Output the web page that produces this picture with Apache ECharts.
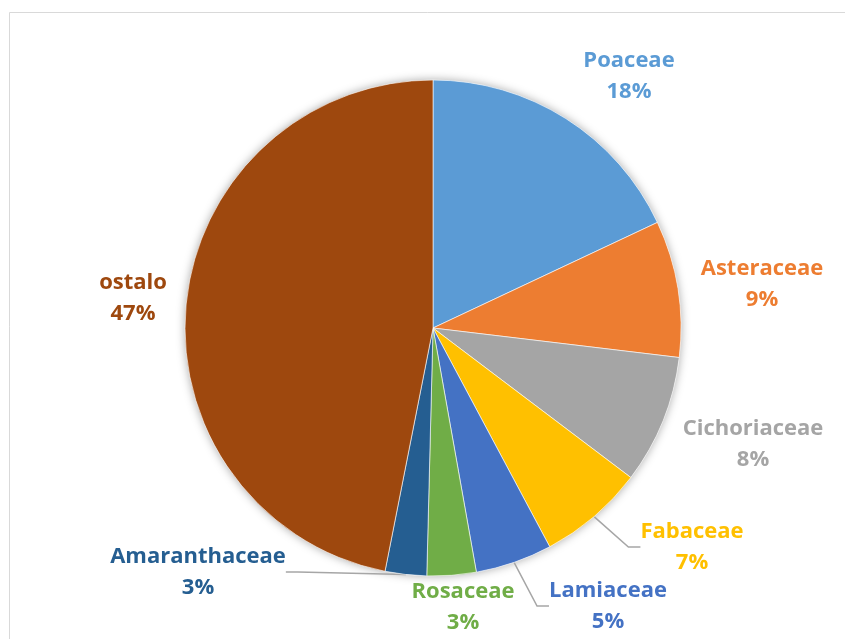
<!DOCTYPE html>
<html>
<head>
<meta charset="utf-8">
<title>Pie</title>
<script src="https://cdn.jsdelivr.net/npm/echarts@6/dist/echarts.min.js"></script>
<style>
	html, body { margin: 0; padding: 0; background: #fff; }
	#family_pie { width: 845px; height: 639px; }
</style>
</head>
<body>
<div id="family_pie"></div>
<script>
var familyNames = ['Poaceae', 'Asteraceae', 'Cichoriaceae', 'Fabaceae', 'Lamiaceae', 'Rosaceae', 'Amaranthaceae', 'ostalo'];
var familyShare = [18.0, 8.9, 8.4, 6.9, 5.0, 3.2, 2.7, 46.9];

var familyColors = ['#5B9BD5', '#ED7D31', '#A5A5A5', '#FFC000', '#4472C4', '#70AD47', '#255E91', '#9E480E'];
// label centres (px), placed like the original office chart
var labelPos = [[629, 76], [762, 284], [753, 444], [692, 547], [608, 606], [463, 607], [198, 572], [133, 298]];
var withLeader = [false, false, false, true, true, false, true, false];

function showFamilyPie() {
	var myChart = echarts.init(document.getElementById('family_pie'));

	var tempData = new Array();
	for (var i = 0; i < familyNames.length; i++) {
		var temp = {
			value : familyShare[i],
			name : familyNames[i],
			itemStyle : {
				color : familyColors[i]
			},
			label : {
				color : familyColors[i]
			},
			labelLine : {
				show : withLeader[i]
			}
		};
		tempData.push(temp);
	}

	var option = {
		backgroundColor : '#fff',
		animation : false,
		graphic : [ {
			type : 'rect',
			shape : { x : 9.5, y : 12.5, width : 900, height : 700 },
			style : { fill : 'none', stroke : '#d9d9d9', lineWidth : 1 },
			silent : true
		} ],
		series : [ {
			// soft shadow behind the whole pie
			name : 'shadow',
			type : 'pie',
			silent : true,
			z : 1,
			left : 0,
			top : 0,
			width : 1400,
			height : 639,
			center : [ 433, 328 ],
			radius : 248,
			label : { show : false },
			labelLine : { show : false },
			itemStyle : {
				color : '#fff',
				shadowBlur : 10,
				shadowColor : 'rgba(0, 0, 0, 0.35)'
			},
			data : [ 1 ]
		}, {
			name : 'families',
			type : 'pie',
			z : 2,
			// wide layout box so the long outside labels are not cut
			left : 0,
			top : 0,
			width : 1400,
			height : 639,
			center : [ 433, 328 ],
			radius : 248,
			startAngle : 90,
			clockwise : true,
			itemStyle : {
				borderColor : '#fff',
				borderWidth : 0.6
			},
			label : {
				show : true,
				position : 'outside',
				bleedMargin : 0,
				fontFamily : 'Open Sans',
				fontWeight : 'bold',
				fontSize : 22,
				lineHeight : 31,
				align : 'center',
				formatter : function(p) {
					return p.name + '\n' + Math.round(p.percent) + '%';
				}
			},
			labelLine : {
				lineStyle : {
					color : '#a6a6a6',
					width : 1.5
				},
				length : 10,
				length2 : 12
			},
			labelLayout : function(p) {
				var pos = labelPos[p.dataIndex];
				return {
					x : pos[0],
					y : pos[1],
					align : 'center',
					verticalAlign : 'middle'
				};
			},
			data : tempData
		} ]
	};

	myChart.setOption(option);
}

showFamilyPie();
</script>
</body>
</html>
